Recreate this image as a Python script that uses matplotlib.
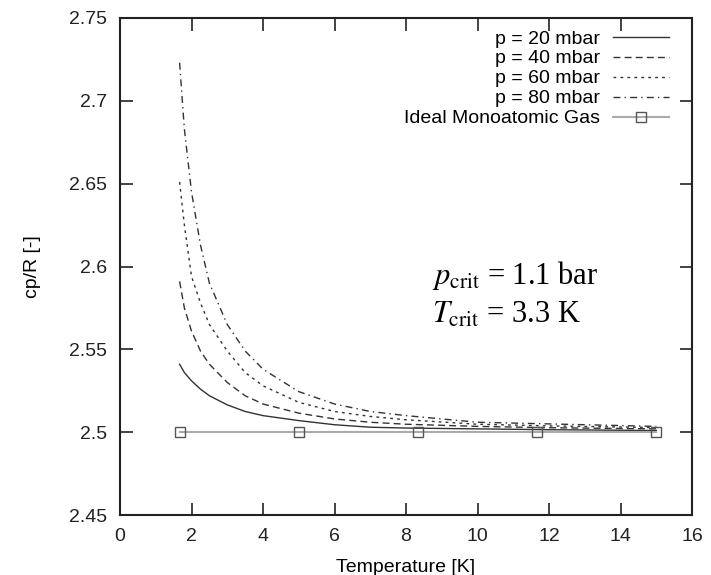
import matplotlib
matplotlib.use("Agg")
import matplotlib.pyplot as plt

plt.rcParams['font.family'] = ['Liberation Sans', 'DejaVu Sans']
plt.rcParams['mathtext.fontset'] = 'stix'

# temperature samples [K] and cp/R
temps = [1.667, 1.8, 2.0, 2.25, 2.5, 3.0, 3.5, 4.0, 5.0, 6.0, 7.0, 8.0, 10.0, 12.0, 15.0]
cp_20 = [2.541, 2.536, 2.531, 2.526, 2.522, 2.5165, 2.5125, 2.510, 2.507, 2.5045, 2.503, 2.5025, 2.502, 2.5015, 2.501]
cp_40 = [2.591, 2.575, 2.561, 2.549, 2.541, 2.530, 2.522, 2.517, 2.5115, 2.508, 2.506, 2.5048, 2.5035, 2.5027, 2.502]
cp_60 = [2.651, 2.625, 2.594, 2.578, 2.565, 2.549, 2.536, 2.528, 2.518, 2.5125, 2.5095, 2.5075, 2.5048, 2.5038, 2.5028]
cp_80 = [2.723, 2.683, 2.645, 2.613, 2.590, 2.565, 2.549, 2.538, 2.5245, 2.517, 2.5125, 2.5100, 2.506, 2.505, 2.5035]

ideal_t = [1.667, 5.0, 8.333, 11.667, 15.0]
ideal_cp = [2.5, 2.5, 2.5, 2.5, 2.5]

series_labels = ['p = 20 mbar', 'p = 40 mbar', 'p = 60 mbar', 'p = 80 mbar']

fig = plt.figure(figsize=(7.11, 5.75), dpi=100)
ax = fig.add_axes([0.1688, 0.1043, 0.8045, 0.8644])

dark = '#333333'
ax.plot(temps, cp_20, color=dark, lw=1.0, ls='-', label=series_labels[0])
ax.plot(temps, cp_40, color=dark, lw=1.0, ls=(0, (5, 3)), label=series_labels[1])
ax.plot(temps, cp_60, color=dark, lw=1.0, ls=(0, (2, 3)), label=series_labels[2])
ax.plot(temps, cp_80, color=dark, lw=1.0, ls=(0, (5, 3, 1, 3)), label=series_labels[3])
ax.plot(ideal_t, ideal_cp, color='#aaaaaa', lw=1.5, marker='s', ms=6.5,
        mfc='none', mec='#555555', mew=1.0, label='Ideal Monoatomic Gas')

ax.set_xlim(0, 16)
ax.set_ylim(2.45, 2.75)
xt = list(range(0, 17, 2))
yt = [2.45, 2.5, 2.55, 2.6, 2.65, 2.7, 2.75]
ax.set_xticks(xt)
ax.set_xticklabels([str(v) for v in xt])
ax.set_yticks(yt)
ax.set_yticklabels(['%g' % v for v in yt])
ax.tick_params(direction='in', length=9, width=1.2, top=True, right=True,
               labelsize=14, colors='#222222', pad=9.5)
for s in ax.spines.values():
    s.set_linewidth(1.5)
    s.set_color('#222222')

ax.set_xlabel('Temperature [K]', fontsize=14, labelpad=10)
ax.set_ylabel('cp/R [-]', fontsize=14, labelpad=20)

leg = ax.legend(loc='upper right', bbox_to_anchor=(0.96, 0.976), frameon=False,
                markerfirst=False, fontsize=14, handlelength=2.9,
                handletextpad=0.67, labelspacing=0.12, borderpad=0,
                borderaxespad=0)

ax.text(8.73, 2.5945, r'$p_{\mathrm{crit}}$ = 1.1 bar', fontsize=22,
        family='Liberation Serif', va='center', ha='left')
ax.text(8.73, 2.5705, r'$T_{\mathrm{crit}}$ = 3.3 K', fontsize=22,
        family='Liberation Serif', va='center', ha='left')

fig.savefig('out.png', dpi=100)
